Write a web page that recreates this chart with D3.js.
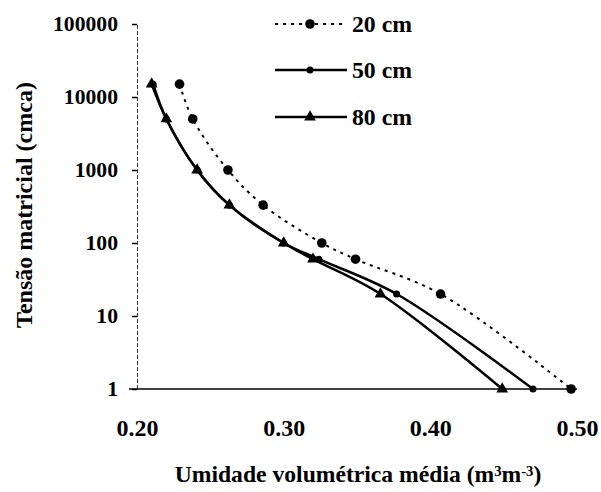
<!DOCTYPE html>
<html><head><meta charset="utf-8">
<script src="https://cdn.jsdelivr.net/npm/d3@7"></script>
<style>
html,body{margin:0;padding:0;background:#fff;}
</style></head>
<body><svg id="c" width="601" height="492"></svg>
<script>
const tension = [15000, 5000, 1000, 330, 100, 60, 20, 1];
const moisture20 = [0.229, 0.238, 0.262, 0.286, 0.326, 0.349, 0.407, 0.496];
const moisture50 = [0.211, 0.220, 0.241, 0.263, 0.300, 0.324, 0.377, 0.470];
const moisture80 = [0.210, 0.220, 0.241, 0.263, 0.300, 0.320, 0.366, 0.449];
const seriesNames = ["20 cm", "50 cm", "80 cm"];
const xTicks = [0.20, 0.30, 0.40, 0.50];
const yTicks = [1, 10, 100, 1000, 10000, 100000];

const FONT = "'Liberation Serif','Times New Roman','Liberation Sans',serif";
const WEIGHT = "bold";
const svg = d3.select("#c");
const x = d3.scaleLinear().domain([0.20, 0.50]).range([137, 577]);
const y = d3.scaleLog().domain([1, 100000]).range([389, 24]);

// fit font size so that a reference text spans a target width
function fitSize(node, base, target) {
  const w = node.getComputedTextLength();
  return w > 0 ? base * target / w : base;
}

// y axis
const yAxis = d3.axisLeft(y).tickValues(yTicks).tickFormat(d3.format("d")).tickSize(5).tickPadding(14);
const gy = svg.append("g").attr("transform", `translate(${x(0.20)},0)`).call(yAxis)
  .attr("font-family", FONT).attr("font-weight", WEIGHT);
gy.select(".domain").attr("stroke", "#333").attr("stroke-width", 1).attr("stroke-dasharray", "4,2");
gy.selectAll(".tick line").attr("stroke", "#000").attr("stroke-width", 1.5);
gy.selectAll(".tick text").attr("font-size", 20).attr("fill", "#000");
{
  const top = gy.selectAll(".tick text").filter(d => d === 100000).node();
  const s = fitSize(top, 20, 65);
  gy.selectAll(".tick text").attr("font-size", s);
}

// x axis
const xAxis = d3.axisBottom(x).tickValues(xTicks).tickFormat(d3.format(".2f")).tickSize(0).tickPadding(0);
const gx = svg.append("g").attr("transform", `translate(0,${y(1)})`).call(xAxis)
  .attr("font-family", FONT).attr("font-weight", WEIGHT);
gx.select(".domain").remove();
gx.selectAll(".tick text").attr("font-size", 20).attr("fill", "#000").attr("dy", null).attr("y", 47);
{
  const n = gx.selectAll(".tick text").node();
  gx.selectAll(".tick text").attr("font-size", fitSize(n, 20, 42));
}
svg.append("line").attr("x1", x(0.20) - 8).attr("x2", x(0.50)).attr("y1", y(1)).attr("y2", y(1))
  .attr("stroke", "#000").attr("stroke-width", 1.5);

// titles
const yt = svg.append("text").attr("transform", `translate(32,205) rotate(-90)`).attr("text-anchor", "middle")
  .attr("font-family", FONT).attr("font-weight", WEIGHT).attr("font-size", 20).text("Tensão matricial (cmca)");
yt.attr("font-size", fitSize(yt.node(), 20, 246));

const xt = svg.append("text").attr("x", 358).attr("y", 482).attr("text-anchor", "middle")
  .attr("font-family", FONT).attr("font-weight", WEIGHT).attr("font-size", 20);
xt.append("tspan").text("Umidade volumétrica média (m");
xt.append("tspan").attr("dy", "-0.42em").attr("font-size", "0.62em").text("3");
xt.append("tspan").attr("dy", "0.26em").text("m");
xt.append("tspan").attr("dy", "-0.42em").attr("font-size", "0.62em").text("-3");
xt.append("tspan").attr("dy", "0.26em").text(")");
xt.attr("font-size", fitSize(xt.node(), 20, 367));

const series = [
  {name: seriesNames[0], vals: moisture20, dash: "3,5", marker: "bigcircle"},
  {name: seriesNames[1], vals: moisture50, dash: null, marker: "circle"},
  {name: seriesNames[2], vals: moisture80, dash: null, marker: "triangle"}
];
const line = d3.line().x(d => x(d[0])).y(d => y(d[1])).curve(d3.curveCatmullRom.alpha(0.5));

function marker(g, type, cx, cy) {
  if (type === "bigcircle") g.append("circle").attr("cx", cx).attr("cy", cy).attr("r", 4.8).attr("fill", "#000");
  else if (type === "circle") g.append("circle").attr("cx", cx).attr("cy", cy).attr("r", 3.5).attr("fill", "#000");
  else g.append("path").attr("d", d3.symbol(d3.symbolTriangle, 60)()).attr("transform", `translate(${cx},${cy})`).attr("fill", "#000");
}

series.forEach(s => {
  const pts = s.vals.map((v, i) => [v, tension[i]]);
  svg.append("path").attr("d", line(pts)).attr("fill", "none").attr("stroke", "#000")
    .attr("stroke-width", s.dash ? 2 : 2.5).attr("stroke-dasharray", s.dash);
  const g = svg.append("g");
  pts.forEach(p => marker(g, s.marker, x(p[0]), y(p[1])));
});

// legend
const legY = [24, 70, 117];
const legTexts = [];
series.forEach((s, i) => {
  const g = svg.append("g");
  g.append("line").attr("x1", 275).attr("x2", 347).attr("y1", legY[i]).attr("y2", legY[i])
    .attr("stroke", "#000").attr("stroke-width", s.dash ? 2 : 2.5).attr("stroke-dasharray", s.dash);
  marker(g, s.marker, 310, legY[i]);
  legTexts.push(g.append("text").attr("x", 352).attr("y", legY[i]).attr("dy", "0.35em")
    .attr("font-family", FONT).attr("font-weight", WEIGHT).attr("font-size", 20).text(s.name));
});
{
  const s = fitSize(legTexts[0].node(), 20, 60);
  legTexts.forEach(t => t.attr("font-size", s));
}
</script></body></html>
